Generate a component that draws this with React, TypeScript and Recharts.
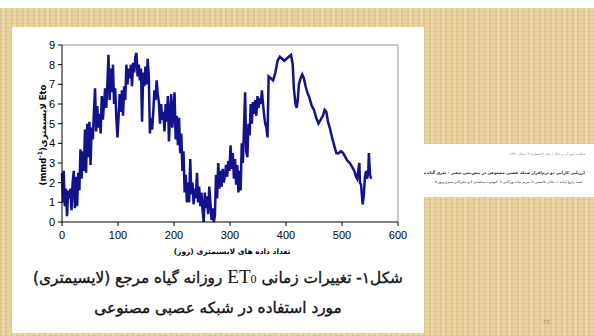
import React from 'react';
import { LineChart, Line, XAxis, YAxis, ReferenceLine } from 'recharts';

// lysimeter ET0 series (day index -> mm/day)
const daysA = [0, 2, 3, 5, 7, 9, 11, 13, 15, 17, 19, 21, 23, 25, 27, 29, 31];
const et0A = [2.5, 1.0, 2.6, 0.8, 1.7, 0.3, 1.6, 1.2, 1.7, 0.6, 2.0, 2.6, 0.7, 2.3, 0.8, 2.5, 1.6];

const daysB = [
  33, 35, 37, 39, 41, 43, 45, 47, 49, 51, 53, 55, 57, 59, 61, 63, 65, 67, 69, 71,
  73, 75, 77, 79, 81, 83, 85, 87, 89, 91, 93, 95, 97, 99,
];
const et0B = [
  3.7, 2.2, 3.6, 2.6, 4.7, 2.5, 5.0, 3.3, 5.1, 2.9, 4.8, 4.2, 5.6, 6.8, 4.6, 5.9, 4.8, 5.5, 4.5, 6.4,
  5.2, 6.0, 6.8, 5.8, 7.0, 8.5, 6.2, 7.8, 6.6, 8.0, 6.0, 6.8, 5.3, 4.3,
];

const daysC = [
  101, 103, 105, 107, 109, 111, 113, 115, 117, 119, 121, 123, 125, 127, 129, 131, 133, 135, 137, 139,
  141, 143, 145, 147, 149, 151, 153, 155, 157, 159, 161, 163, 165, 167, 169, 171, 173, 175, 177, 179,
  181, 183, 185, 187, 189, 191, 193, 195, 197, 199,
];
const et0C = [
  5.3, 6.5, 5.6, 6.7, 5.4, 6.9, 6.2, 8.0, 7.0, 7.8, 7.3, 8.0, 6.9, 8.1, 7.6, 8.4, 8.6, 7.4, 8.0, 7.2,
  7.8, 5.1, 7.6, 6.9, 7.9, 7.0, 8.3, 7.4, 4.5, 5.3, 4.7, 5.6, 6.7, 6.2, 7.2, 6.5, 6.1, 5.0, 6.0, 5.2,
  5.6, 4.6, 6.0, 5.1, 6.4, 4.1, 5.4, 6.5, 4.8, 5.6,
];

const daysD = [
  201, 203, 205, 207, 209, 211, 213, 215, 217, 219, 221, 223, 225, 227, 229, 231, 233, 235, 237, 239,
  241, 243, 245, 247, 249, 251, 253, 255, 257, 259, 261, 263, 265, 267, 269, 271, 273, 275, 277, 279,
  281, 283, 285, 287, 289, 291, 293, 295, 297, 299,
];
const et0D = [
  6.6, 4.2, 5.4, 3.9, 5.3, 3.5, 4.5, 2.6, 3.6, 1.5, 2.4, 1.0, 2.0, 1.0, 3.2, 1.4, 2.0, 0.9, 1.7, 1.2,
  2.5, 1.0, 1.8, 0.8, 1.5, 0.6, 0.0, 1.5, 0.7, 1.3, 0.4, 1.8, 1.0, 0.1, 0.7, 0.0, 0.3, 2.4, 1.2, 3.0,
  1.7, 2.6, 1.8, 2.7, 2.0, 2.4, 2.9, 2.3, 3.1, 2.6,
];

const daysE = [
  301, 303, 305, 307, 309, 311, 313, 315, 317, 319, 321, 323, 325, 327, 329, 331, 333, 335, 337, 339,
  341, 343, 345, 347, 349, 351, 353, 355, 357, 359, 361, 363, 365, 367,
];
const et0E = [
  3.9, 2.7, 3.5, 2.2, 3.2, 1.9, 2.9, 1.5, 2.6, 1.6, 4.0, 3.0, 4.8, 6.6, 3.6, 3.3, 5.0, 4.4, 6.0, 5.0,
  6.1, 5.5, 6.2, 5.4, 6.4, 5.8, 6.3, 6.0, 6.7, 6.0, 5.4, 5.0, 4.8, 4.3,
];

const daysF = [
  369, 373, 377, 381, 385, 389, 393, 397, 401, 405, 409, 412, 414, 417, 419, 421, 423, 426, 429, 432,
  435, 438, 442, 446, 450, 454, 458, 462, 466, 469, 472, 475, 479, 483, 487, 490, 494, 498, 502, 506,
  510, 514, 518, 522, 525, 527, 529, 531, 532, 534, 536, 537, 539, 541, 543, 545, 547, 548, 550, 552,
];
const et0F = [
  7.4, 7.3, 7.2, 7.6, 8.2, 8.4, 8.3, 8.2, 8.3, 8.4, 8.5, 8.0, 6.8, 6.0, 5.8, 6.2, 7.0, 7.3, 7.5, 7.3,
  6.9, 6.6, 6.3, 5.9, 5.7, 5.3, 5.0, 5.2, 5.4, 5.7, 5.6, 5.1, 4.7, 4.2, 3.8, 3.5, 3.5, 3.6, 3.5, 3.3,
  3.1, 3.0, 2.8, 2.6, 2.3, 2.2, 2.6, 3.0, 2.0, 1.9, 1.2, 0.9, 1.4, 2.3, 2.6, 2.2, 2.7, 3.5, 2.4, 2.2,
];

const xTicks = [0, 100, 200, 300, 400, 500, 600];
const yTicks = [0, 1, 2, 3, 4, 5, 6, 7, 8, 9];

const days = [...daysA, ...daysB, ...daysC, ...daysD, ...daysE, ...daysF];
const et0 = [...et0A, ...et0B, ...et0C, ...et0D, ...et0E, ...et0F];
const data = days.map((d, i) => ({ day: d, et0: et0[i] }));

const parchment =
  'repeating-linear-gradient(90deg, rgba(200,170,100,0.25) 0 2px, rgba(255,245,215,0.15) 2px 5px, rgba(190,160,90,0.2) 5px 7px, rgba(255,240,200,0) 7px 11px),' +
  'repeating-linear-gradient(0deg, rgba(210,180,110,0.22) 0 1px, rgba(255,245,215,0) 1px 4px),' +
  '#e8d39f';

const tickStyle = { fontFamily: '"Liberation Sans", Arial, sans-serif', fontSize: 11, fill: '#000' };

const captionStyle: React.CSSProperties = {
  position: 'absolute',
  left: 0,
  width: 412,
  textAlign: 'center',
  whiteSpace: 'nowrap',
  fontFamily: '"DejaVu Sans", serif',
  fontSize: 15.3,
  lineHeight: '22px',
  direction: 'rtl',
  color: '#111',
  WebkitTextStroke: '0.35px #111',
};

const paperLine: React.CSSProperties = {
  position: 'absolute',
  left: 0,
  right: 9,
  textAlign: 'right',
  direction: 'rtl',
  whiteSpace: 'nowrap',
};

export default function App() {
  return (
    <div
      style={{
        position: 'fixed',
        left: 0,
        top: 0,
        width: 594,
        height: 336,
        overflow: 'hidden',
        background: parchment,
      }}
    >
      {/* white band at the top of the slide */}
      <div style={{ position: 'absolute', left: 0, top: 0, width: 594, height: 8, background: '#fff' }} />

      {/* paper excerpt strip */}
      <div
        style={{
          position: 'absolute',
          left: 424,
          top: 144,
          width: 170,
          height: 53,
          background: '#fff',
          fontFamily: '"DejaVu Sans", sans-serif',
          color: '#222',
        }}
      >
        <div style={{ ...paperLine, top: 8, fontSize: 3.4, color: '#777' }}>
          مجله دانش آب و خاک / جلد ۲۱ شماره ۴ / سال ۱۳۹۰
        </div>
        <div style={{ ...paperLine, top: 26, fontSize: 4, fontWeight: 'bold' }}>
          ارزیابی کارآیی دو نرم‌افزار شبکه عصبی مصنوعی در پیش‌بینی تبخیر – تعرق گیاه مرجع
        </div>
        <div style={{ ...paperLine, top: 36, right: 11, fontSize: 3.6 }}>
          حمید زارع ابیانه ۱، عادل قاسمی ۲، مریم بیات ورکانی ۳، کیومرث محمدی ۴ و علی‌اکبر سبزی‌پرور ۵
        </div>
      </div>

      {/* page number */}
      <div
        style={{
          position: 'absolute',
          left: 543,
          top: 319,
          fontSize: 6,
          color: '#9a8a6a',
          fontFamily: '"Liberation Sans", sans-serif',
        }}
      >
        73
      </div>

      {/* white figure panel */}
      <div style={{ position: 'absolute', left: 12, top: 27, width: 412, height: 306, background: '#fff' }}>
        <LineChart
          width={412}
          height={240}
          data={data}
          margin={{ top: 18, right: 26, left: 10, bottom: 0 }}
        >
          <XAxis
            dataKey="day"
            type="number"
            domain={[0, 600]}
            ticks={xTicks}
            tick={tickStyle}
            tickSize={4}
            tickMargin={5}
            height={45}
            stroke="#000"
            axisLine={{ stroke: '#000', strokeWidth: 1 }}
          />
          <YAxis
            type="number"
            domain={[0, 9]}
            ticks={yTicks}
            tick={tickStyle}
            tickSize={4}
            tickMargin={3}
            width={40}
            stroke="#000"
            axisLine={{ stroke: '#000', strokeWidth: 1 }}
          />
          <ReferenceLine y={9} stroke="#b8b8b8" strokeWidth={1.5} />
          <ReferenceLine x={600} stroke="#b8b8b8" strokeWidth={1.5} />
          <Line
            type="linear"
            dataKey="et0"
            stroke="#12128a"
            strokeWidth={2.5}
            dot={false}
            isAnimationActive={false}
          />
        </LineChart>

        {/* y axis title */}
        <div
          style={{
            position: 'absolute',
            left: 30,
            top: 108,
            transform: 'translate(-50%, -50%) rotate(-90deg)',
            whiteSpace: 'nowrap',
            fontFamily: '"DejaVu Sans", "Liberation Sans", sans-serif',
            fontWeight: 'bold',
            fontSize: 8.5,
            direction: 'ltr',
          }}
        >
          (mmd<sup style={{ fontSize: 6 }}>-1</sup>)لایسیمتری Eto
        </div>

        {/* x axis title */}
        <div
          style={{
            position: 'absolute',
            left: 0,
            width: 440,
            top: 220,
            textAlign: 'center',
            whiteSpace: 'nowrap',
            fontFamily: '"DejaVu Sans", sans-serif',
            fontWeight: 'bold',
            fontSize: 7.5,
            lineHeight: '10px',
            direction: 'rtl',
          }}
        >
          تعداد داده های لایسیمتری (روز)
        </div>

        {/* figure caption */}
        <div style={{ ...captionStyle, top: 239 }}>
          شکل۱- تغییرات زمانی{' '}
          <span style={{ fontFamily: '"Liberation Serif", serif', fontSize: 19, WebkitTextStroke: '0px' }}>
            ET<span style={{ fontSize: 12 }}>0</span>
          </span>{' '}
          روزانه گیاه مرجع (لایسیمتری)
        </div>
        <div style={{ ...captionStyle, top: 270 }}>مورد استفاده در شبکه عصبی مصنوعی</div>
      </div>
    </div>
  );
}
